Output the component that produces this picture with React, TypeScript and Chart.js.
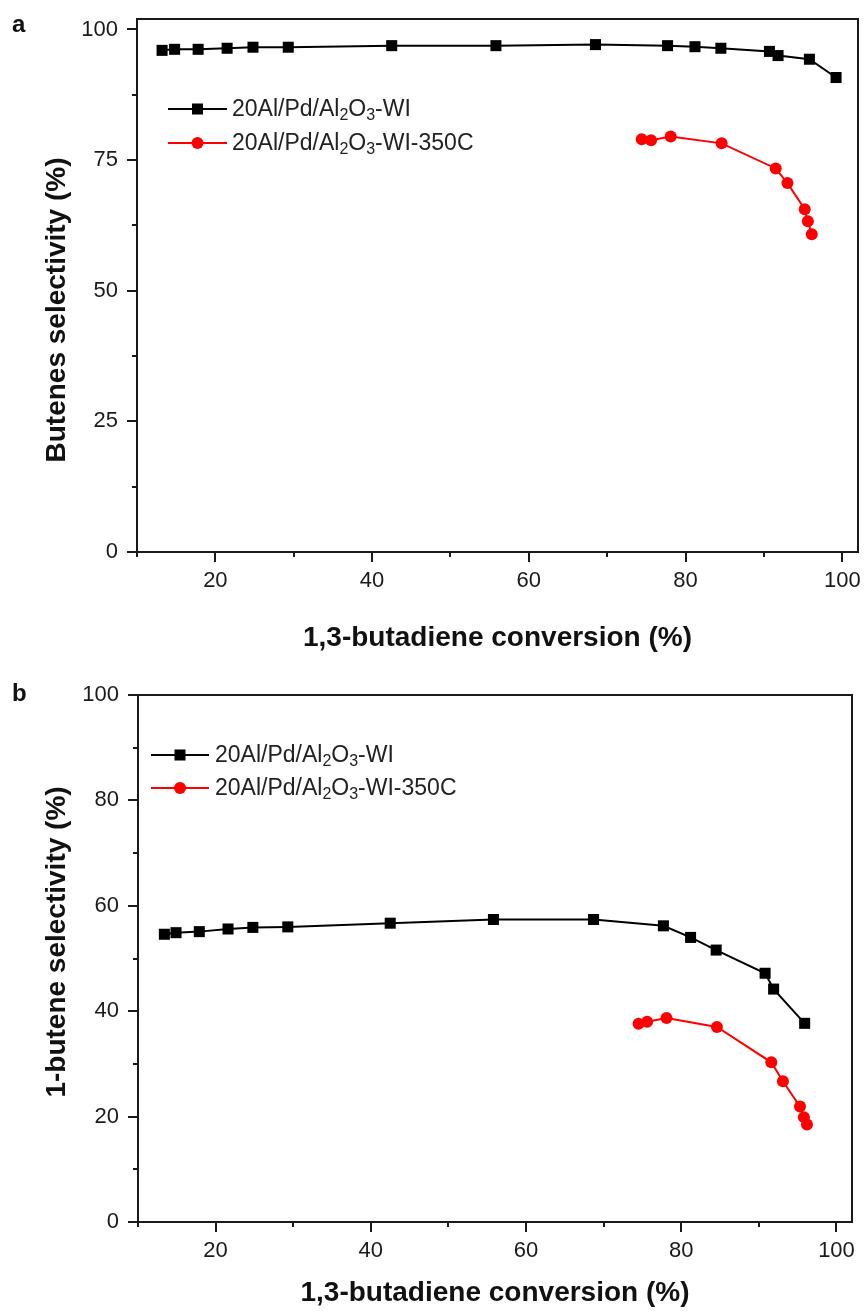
import React, { useEffect, useRef } from 'react';
import { Chart, registerables } from 'chart.js';

Chart.register(...registerables);

// ---------- data ----------
const X_TICKS = [20, 40, 60, 80, 100];
const X_MINOR = [10, 30, 50, 70, 90];
const A_Y_TICKS = [0, 25, 50, 75, 100];
const A_Y_MINOR = [12.5, 37.5, 62.5, 87.5];
const B_Y_TICKS = [0, 20, 40, 60, 80, 100];
const B_Y_MINOR = [10, 30, 50, 70, 90];

const X_TITLE = '1,3-butadiene conversion (%)';
const A_Y_TITLE = 'Butenes selectivity (%)';
const B_Y_TITLE = '1-butene selectivity (%)';

// legend names: parts with subscripts
const NAME_WI = [
  { t: '20Al/Pd/Al' }, { t: '2', sub: true }, { t: 'O' }, { t: '3', sub: true }, { t: '-WI' },
];
const NAME_350 = [
  { t: '20Al/Pd/Al' }, { t: '2', sub: true }, { t: 'O' }, { t: '3', sub: true }, { t: '-WI-350C' },
];

// panel a: butenes selectivity
const A_WI_X = [13.2, 14.8, 17.8, 21.5, 24.8, 29.3, 42.5, 55.8, 68.5, 77.7, 81.2, 84.5, 90.7, 91.8, 95.8, 99.2];
const A_WI_Y = [96.0, 96.2, 96.2, 96.4, 96.6, 96.6, 96.9, 96.9, 97.1, 96.9, 96.7, 96.4, 95.8, 95.0, 94.3, 90.8];
const A_350_X = [74.4, 75.6, 78.1, 84.6, 91.5, 93.0, 95.2, 95.6, 96.1];
const A_350_Y = [79.0, 78.8, 79.5, 78.2, 73.4, 70.6, 65.6, 63.3, 60.8];

// panel b: 1-butene selectivity
const B_WI_X = [13.4, 14.9, 17.9, 21.6, 24.8, 29.3, 42.5, 55.8, 68.7, 77.7, 81.2, 84.5, 90.8, 91.9, 95.9];
const B_WI_Y = [54.6, 54.9, 55.1, 55.6, 55.9, 56.0, 56.7, 57.4, 57.4, 56.2, 54.0, 51.6, 47.2, 44.2, 37.7];
const B_350_X = [74.5, 75.6, 78.1, 84.6, 91.6, 93.1, 95.3, 95.8, 96.2];
const B_350_Y = [37.6, 38.0, 38.7, 37.0, 30.3, 26.7, 21.9, 19.9, 18.5];

// ---------- styling / layout ----------
const FONT = '"Liberation Sans", Arial, Helvetica, sans-serif';
const INK = '#1a1a1a';
const BLACK = '#000000';
const RED = '#ff0000';

type Part = { t: string; sub?: boolean };

interface PanelCfg {
  top: number;
  height: number;
  padTop: number;
  padRight: number;
  yAxisWidth: number;
  xAxisHeight: number;
  xMin: number;
  xMax: number;
  yMin: number;
  yMax: number;
  yTicks: number[];
  yMinor: number[];
  yTitle: string;
  yTitleX: number;
  yTitleY: number;
  xTitleY: number;
  letter: string;
  letterY: number;
  legendLineX0: number;
  legendLineX1: number;
  legendTextX: number;
  legendY0: number;
  legendY1: number;
  wiX: number[];
  wiY: number[];
  hX: number[];
  hY: number[];
}

const PANELS: PanelCfg[] = [
  {
    top: 0, height: 655, padTop: 19, padRight: 9, yAxisWidth: 137, xAxisHeight: 103,
    xMin: 10, xMax: 102, yMin: 0, yMax: 102,
    yTicks: A_Y_TICKS, yMinor: A_Y_MINOR, yTitle: A_Y_TITLE, yTitleX: 65, yTitleY: 310,
    xTitleY: 646, letter: 'a', letterY: 32,
    legendLineX0: 168, legendLineX1: 227, legendTextX: 232, legendY0: 109, legendY1: 143,
    wiX: A_WI_X, wiY: A_WI_Y, hX: A_350_X, hY: A_350_Y,
  },
  {
    top: 655, height: 656, padTop: 40, padRight: 15, yAxisWidth: 138, xAxisHeight: 89,
    xMin: 10, xMax: 102, yMin: 0, yMax: 100,
    yTicks: B_Y_TICKS, yMinor: B_Y_MINOR, yTitle: B_Y_TITLE, yTitleX: 65, yTitleY: 287,
    xTitleY: 646, letter: 'b', letterY: 46,
    legendLineX0: 151, legendLineX1: 209, legendTextX: 215, legendY0: 100, legendY1: 133,
    wiX: B_WI_X, wiY: B_WI_Y, hX: B_350_X, hY: B_350_Y,
  },
];

function drawParts(ctx: CanvasRenderingContext2D, parts: Part[], x: number, y: number) {
  let cx = x;
  for (const p of parts) {
    if (p.sub) {
      ctx.font = `16px ${FONT}`;
      ctx.fillText(p.t, cx, y + 6);
    } else {
      ctx.font = `23px ${FONT}`;
      ctx.fillText(p.t, cx, y);
    }
    cx += ctx.measureText(p.t).width;
  }
}

function makePlugin(cfg: PanelCfg) {
  return {
    id: 'panelDecor',
    beforeDatasetsDraw(chart: any) {
      const ctx: CanvasRenderingContext2D = chart.ctx;
      const { left, right, top, bottom } = chart.chartArea;
      const xs = chart.scales.x;
      const ys = chart.scales.y;
      ctx.save();
      ctx.strokeStyle = INK;
      ctx.lineWidth = 2;
      ctx.strokeRect(left, top, right - left, bottom - top);
      ctx.beginPath();
      for (const v of X_TICKS) {
        const px = Math.round(xs.getPixelForValue(v));
        ctx.moveTo(px, bottom);
        ctx.lineTo(px, bottom + 10);
      }
      for (const v of X_MINOR) {
        const px = Math.round(xs.getPixelForValue(v));
        ctx.moveTo(px, bottom);
        ctx.lineTo(px, bottom + 5);
      }
      for (const v of cfg.yTicks) {
        const py = Math.round(ys.getPixelForValue(v));
        ctx.moveTo(left - 10, py);
        ctx.lineTo(left, py);
      }
      for (const v of cfg.yMinor) {
        const py = Math.round(ys.getPixelForValue(v));
        ctx.moveTo(left - 5, py);
        ctx.lineTo(left, py);
      }
      ctx.stroke();
      ctx.restore();
    },
    afterDraw(chart: any) {
      const ctx: CanvasRenderingContext2D = chart.ctx;
      const { left, right } = chart.chartArea;
      ctx.save();
      ctx.fillStyle = '#111111';
      // x title
      ctx.font = `bold 28px ${FONT}`;
      ctx.textAlign = 'center';
      ctx.textBaseline = 'alphabetic';
      ctx.fillText(X_TITLE, (left + right) / 2, cfg.xTitleY);
      // y title
      ctx.save();
      ctx.translate(cfg.yTitleX, cfg.yTitleY);
      ctx.rotate(-Math.PI / 2);
      ctx.fillText(cfg.yTitle, 0, 0);
      ctx.restore();
      // panel letter
      ctx.font = `bold 24px ${FONT}`;
      ctx.textAlign = 'left';
      ctx.fillText(cfg.letter, 12, cfg.letterY);

      // legend
      const rows = [
        { y: cfg.legendY0, color: BLACK, style: 'rect', parts: NAME_WI },
        { y: cfg.legendY1, color: RED, style: 'circle', parts: NAME_350 },
      ];
      for (const r of rows) {
        ctx.strokeStyle = r.color;
        ctx.lineWidth = 2;
        ctx.beginPath();
        ctx.moveTo(cfg.legendLineX0, r.y);
        ctx.lineTo(cfg.legendLineX1, r.y);
        ctx.stroke();
        ctx.fillStyle = r.color;
        const mx = (cfg.legendLineX0 + cfg.legendLineX1) / 2;
        if (r.style === 'rect') {
          ctx.fillRect(mx - 5.5, r.y - 5.5, 11, 11);
        } else {
          ctx.beginPath();
          ctx.arc(mx, r.y, 6, 0, Math.PI * 2);
          ctx.fill();
        }
        ctx.fillStyle = '#222222';
        ctx.textAlign = 'left';
        ctx.textBaseline = 'middle';
        drawParts(ctx, r.parts as Part[], cfg.legendTextX, r.y + 1);
      }
      ctx.restore();
    },
  };
}

function toPoints(xs: number[], ys: number[]) {
  return xs.map((x, i) => ({ x, y: ys[i] }));
}

function Panel({ cfg }: { cfg: PanelCfg }) {
  const ref = useRef<HTMLCanvasElement | null>(null);
  useEffect(() => {
    if (!ref.current) return;
    const tickFont = { family: FONT, size: 22 };
    const chart = new Chart(ref.current, {
      type: 'line',
      data: {
        datasets: [
          {
            label: 'WI',
            data: toPoints(cfg.wiX, cfg.wiY),
            borderColor: BLACK,
            backgroundColor: BLACK,
            pointBackgroundColor: BLACK,
            pointBorderColor: BLACK,
            pointStyle: 'rect',
            pointRadius: 7.8,
            pointBorderWidth: 0,
            borderWidth: 2,
            tension: 0,
            clip: false,
          } as any,
          {
            label: 'WI-350C',
            data: toPoints(cfg.hX, cfg.hY),
            borderColor: RED,
            backgroundColor: RED,
            pointBackgroundColor: RED,
            pointBorderColor: RED,
            pointStyle: 'circle',
            pointRadius: 6,
            pointBorderWidth: 0,
            borderWidth: 2,
            tension: 0,
            clip: false,
          } as any,
        ],
      },
      options: {
        animation: false,
        responsive: false,
        maintainAspectRatio: false,
        layout: { padding: { left: 0, right: cfg.padRight, top: cfg.padTop, bottom: 0 } },
        plugins: { legend: { display: false }, tooltip: { enabled: false } },
        scales: {
          x: {
            type: 'linear',
            min: cfg.xMin,
            max: cfg.xMax,
            grid: { display: false, drawTicks: false },
            border: { display: false },
            ticks: { font: tickFont, color: INK, padding: 16, autoSkip: false, maxRotation: 0 },
            afterBuildTicks: (axis: any) => {
              axis.ticks = X_TICKS.map((v) => ({ value: v }));
            },
            afterFit: (s: any) => {
              s.height = cfg.xAxisHeight;
              s.paddingLeft = 0;
              s.paddingRight = 0;
            },
          },
          y: {
            type: 'linear',
            min: cfg.yMin,
            max: cfg.yMax,
            grid: { display: false, drawTicks: false },
            border: { display: false },
            ticks: { font: tickFont, color: INK, padding: 19, autoSkip: false },
            afterBuildTicks: (axis: any) => {
              axis.ticks = cfg.yTicks.map((v) => ({ value: v }));
            },
            afterFit: (s: any) => {
              s.width = cfg.yAxisWidth;
              s.paddingTop = 0;
              s.paddingBottom = 0;
            },
          },
        },
      } as any,
      plugins: [makePlugin(cfg)],
    });
    return () => chart.destroy();
  }, [cfg]);
  return (
    <canvas
      ref={ref}
      width={867}
      height={cfg.height}
      style={{ position: 'absolute', left: 0, top: cfg.top, width: 867, height: cfg.height, display: 'block' }}
    />
  );
}

export default function App() {
  return (
    <div style={{ position: 'absolute', left: 0, top: 0, width: 867, height: 1311, background: '#ffffff' }}>
      {PANELS.map((p, i) => (
        <Panel key={i} cfg={p} />
      ))}
    </div>
  );
}
